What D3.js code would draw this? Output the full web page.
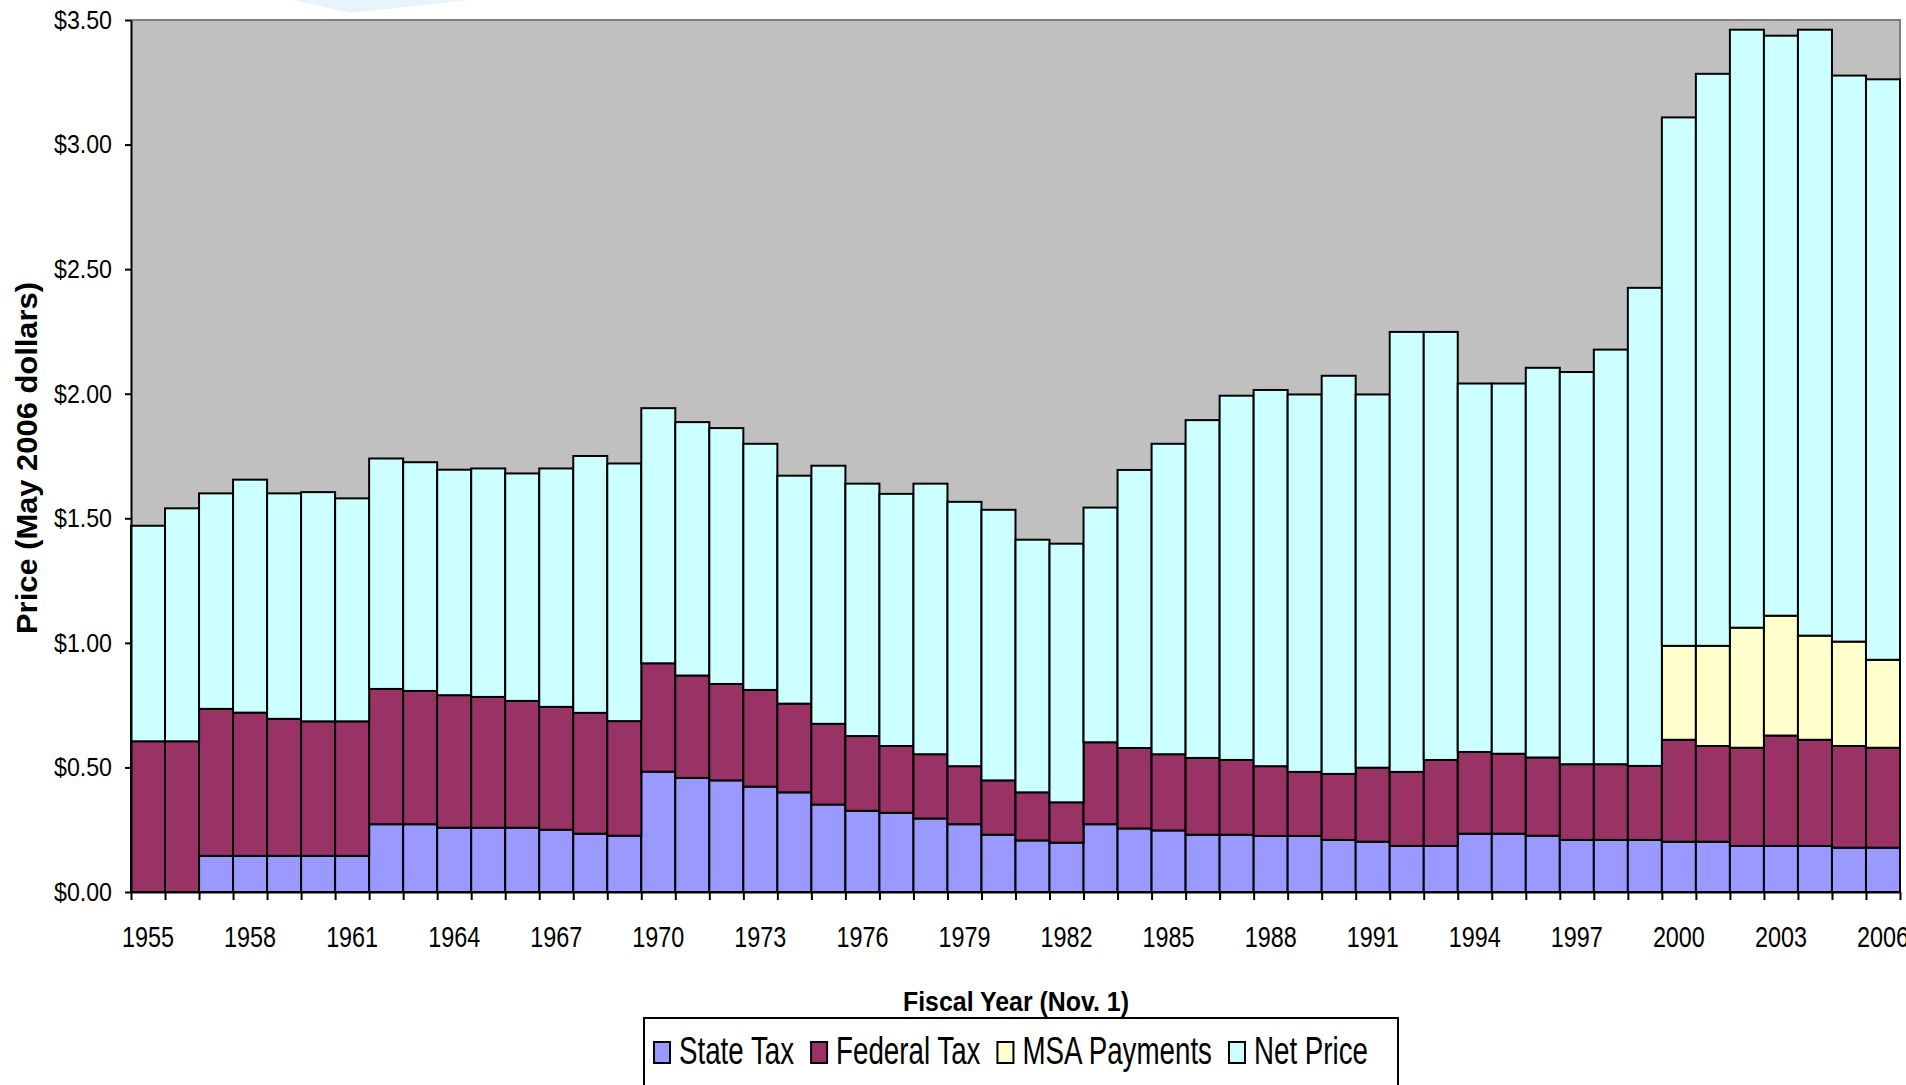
<!DOCTYPE html>
<html>
<head>
<meta charset="utf-8">
<script src="https://cdn.jsdelivr.net/npm/d3@7/dist/d3.min.js"></script>
<style>
body { margin: 0; background: #fff; }
svg { display: block; }
</style>
</head>
<body>
<script>
// Cigarette price components, May 2006 dollars
// ---------------------------------------------
var years = [1955, 1956, 1957, 1958, 1959, 1960, 1961, 1962, 1963, 1964, 1965, 1966, 1967,
        1968, 1969, 1970, 1971, 1972, 1973, 1974, 1975, 1976, 1977, 1978, 1979, 1980,
        1981, 1982, 1983, 1984, 1985, 1986, 1987, 1988, 1989, 1990, 1991, 1992, 1993,
        1994, 1995, 1996, 1997, 1998, 1999, 2000, 2001, 2002, 2003, 2004, 2005, 2006];

var stateTax = [0, 0, 0.145, 0.145, 0.145, 0.145, 0.145, 0.272, 0.272, 0.258, 0.258, 0.258, 0.25,
        0.234, 0.226, 0.483, 0.458, 0.448, 0.423, 0.40, 0.351, 0.326, 0.318, 0.295, 0.272, 0.23,
        0.207, 0.198, 0.272, 0.255, 0.247, 0.23, 0.23, 0.225, 0.225, 0.209, 0.202, 0.185, 0.185,
        0.234, 0.234, 0.226, 0.209, 0.209, 0.209, 0.202, 0.202, 0.185, 0.185, 0.185, 0.178, 0.178];

var federalTax = [0.605, 0.605, 0.59, 0.575, 0.55, 0.54, 0.54, 0.543, 0.535, 0.532, 0.525, 0.509, 0.493,
        0.485, 0.46, 0.435, 0.411, 0.387, 0.388, 0.356, 0.324, 0.30, 0.268, 0.258, 0.233, 0.218,
        0.193, 0.162, 0.329, 0.323, 0.306, 0.308, 0.30, 0.28, 0.257, 0.265, 0.297, 0.297, 0.345,
        0.328, 0.321, 0.314, 0.304, 0.304, 0.297, 0.409, 0.384, 0.394, 0.443, 0.426, 0.408, 0.401];

var msaPayments = [0, 0, 0, 0, 0, 0, 0, 0, 0, 0, 0, 0, 0,
        0, 0, 0, 0, 0, 0, 0, 0, 0, 0, 0, 0, 0,
        0, 0, 0, 0, 0, 0, 0, 0, 0, 0, 0, 0, 0,
        0, 0, 0, 0, 0, 0, 0.377, 0.402, 0.482, 0.481, 0.418, 0.419, 0.353];

var netPrice = [0.865, 0.935, 0.865, 0.935, 0.905, 0.92, 0.895, 0.925, 0.918, 0.905, 0.917, 0.913, 0.957,
        1.031, 1.034, 1.024, 1.017, 1.027, 0.988, 0.915, 1.036, 1.013, 1.012, 1.086, 1.061, 1.086,
        1.014, 1.038, 0.942, 1.116, 1.246, 1.356, 1.462, 1.51, 1.515, 1.598, 1.498, 1.766, 1.718,
        1.479, 1.486, 1.564, 1.574, 1.664, 1.919, 2.121, 2.296, 2.40, 2.328, 2.432, 2.272, 2.33];

var yearLabels = [1955, 1958, 1961, 1964, 1967, 1970, 1973, 1976, 1979, 1982, 1985, 1988,
        1991, 1994, 1997, 2000, 2003, 2006];
var priceTicks = [0, 0.5, 1, 1.5, 2, 2.5, 3, 3.5];

var seriesKeys = ['state', 'federal', 'msa', 'net'];
var seriesNames = ['State Tax', 'Federal Tax', 'MSA Payments', 'Net Price'];
var seriesColors = ['#9999FF', '#993366', '#FFFFCC', '#CCFFFF'];

// Width and height
var w = 1906;
var h = 1085;
var plotLeft = 131, plotRight = 1900, plotTop = 20, plotBottom = 892;
var fontName = '"Liberation Sans", Arial, sans-serif';

var rows = years.map(function(yr, i) {
    return { year: yr, state: stateTax[i], federal: federalTax[i], msa: msaPayments[i], net: netPrice[i] };
});
var layers = d3.stack().keys(seriesKeys)(rows);

var x = d3.scaleBand().domain(years).range([plotLeft, plotRight]).padding(0);
var y = d3.scaleLinear().domain([0, 3.5]).range([plotBottom, plotTop]);

var svg = d3.select('body').append('svg').attr('width', w).attr('height', h);

// faint shape at the very top
svg.append('path')
    .attr('d', 'M293,0 L350,13 L470,0 Z')
    .attr('fill', '#E8F4FC');

// plot background
svg.append('rect')
    .attr('x', plotLeft).attr('y', plotTop)
    .attr('width', plotRight - plotLeft).attr('height', plotBottom - plotTop)
    .attr('fill', '#C0C0C0');
svg.append('path')
    .attr('d', 'M' + plotLeft + ',' + plotTop + 'H' + plotRight + 'V' + plotBottom)
    .attr('fill', 'none').attr('stroke', '#808080').attr('stroke-width', 2);

// stacked bars
svg.selectAll('g.layer').data(layers).enter()
.append('g')
.attr('class', 'layer')
.attr('fill', function(d, i) { return seriesColors[i]; })
.selectAll('rect')
.data(function(d) { return d.filter(function(p) { return p[1] - p[0] > 0; }); })
.enter()
.append('rect')
.attr('x', function(d) { return x(d.data.year); })
.attr('y', function(d) { return y(d[1]); })
.attr('width', x.bandwidth())
.attr('height', function(d) { return y(d[0]) - y(d[1]); })
.attr('stroke', '#000')
.attr('stroke-width', 2);

// y axis
var yAxis = svg.append('g')
    .attr('transform', 'translate(' + plotLeft + ',0)')
    .call(d3.axisLeft(y).tickValues(priceTicks)
        .tickFormat(function(d) { return '$' + d.toFixed(2); })
        .tickSize(6).tickSizeOuter(0).tickPadding(13));
yAxis.select('.domain').attr('stroke', '#000').attr('stroke-width', 2);
yAxis.selectAll('line').attr('stroke', '#000').attr('stroke-width', 2);
yAxis.selectAll('text')
    .attr('font-family', fontName).attr('font-size', '26px').attr('fill', '#000')
    .attr('textLength', 58).attr('lengthAdjust', 'spacingAndGlyphs');

// x axis: tick marks on band edges
var edge = d3.scaleLinear().domain([0, years.length]).range([plotLeft, plotRight]);
var xTicks = svg.append('g')
    .attr('transform', 'translate(0,' + plotBottom + ')')
    .call(d3.axisBottom(edge).tickValues(d3.range(years.length + 1))
        .tickFormat('').tickSize(8).tickSizeOuter(0));
xTicks.select('.domain').attr('stroke', '#000').attr('stroke-width', 2);
xTicks.selectAll('line').attr('stroke', '#000').attr('stroke-width', 2);

// x axis: year labels in band centres
var xLabels = svg.append('g')
    .attr('transform', 'translate(0,' + plotBottom + ')')
    .call(d3.axisBottom(x).tickValues(yearLabels).tickSize(0).tickPadding(34));
xLabels.select('.domain').remove();
xLabels.selectAll('text')
    .attr('font-family', fontName).attr('font-size', '30px').attr('fill', '#000')
    .attr('textLength', 52).attr('lengthAdjust', 'spacingAndGlyphs');

// axis titles
svg.append('text')
    .text('Price (May 2006 dollars)')
    .attr('transform', 'translate(37,458) rotate(-90)')
    .attr('text-anchor', 'middle')
    .attr('font-family', fontName).attr('font-weight', 'bold').attr('font-size', '30px')
    .attr('textLength', 352).attr('lengthAdjust', 'spacingAndGlyphs');

svg.append('text')
    .text('Fiscal Year (Nov. 1)')
    .attr('x', 1016).attr('y', 1011)
    .attr('text-anchor', 'middle')
    .attr('font-family', fontName).attr('font-weight', 'bold').attr('font-size', '27px')
    .attr('textLength', 226).attr('lengthAdjust', 'spacingAndGlyphs');

// legend
svg.append('rect')
    .attr('x', 644).attr('y', 1018).attr('width', 754).attr('height', 100)
    .attr('fill', '#fff').attr('stroke', '#000').attr('stroke-width', 2);

var squeeze = 0.73;
var cursor = 654;
seriesNames.forEach(function(name, i) {
    svg.append('rect')
        .attr('x', cursor).attr('y', 1042).attr('width', 16).attr('height', 21)
        .attr('fill', seriesColors[i]).attr('stroke', '#000').attr('stroke-width', 2);
    var t = svg.append('text')
        .text(name)
        .attr('transform', 'translate(' + (cursor + 25) + ',1064) scale(' + squeeze + ',1)')
        .attr('font-family', fontName).attr('font-size', '38px');
    var tw = t.node().getComputedTextLength() * squeeze;
    cursor = cursor + 25 + tw + 17;
});
</script>
</body>
</html>
